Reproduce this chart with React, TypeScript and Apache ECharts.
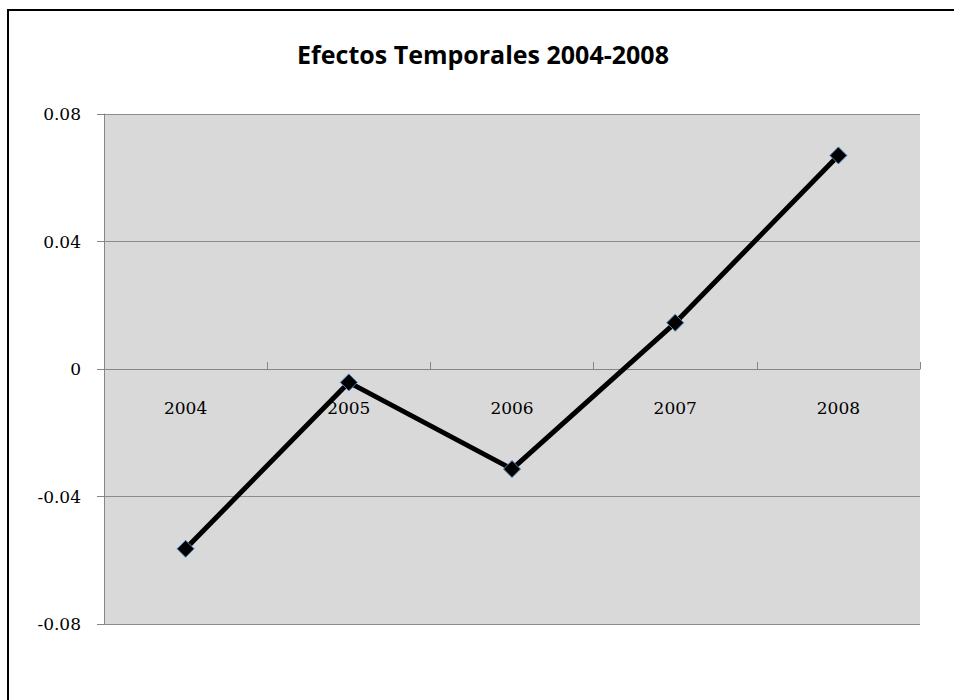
import React, { useEffect, useRef } from "react";
import * as echarts from "echarts";

const TITLE = "Efectos Temporales 2004-2008";
const years = ["2004", "2005", "2006", "2007", "2008"];
const effects = [-0.0564, -0.0042, -0.0314, 0.0145, 0.067];
const yMin = -0.08;
const yMax = 0.08;
const yStep = 0.04;

export default function App() {
  const ref = useRef<HTMLDivElement>(null);
  useEffect(() => {
    if (!ref.current) return;
    const chart = echarts.init(ref.current, null, { renderer: "svg" });
    chart.setOption({
      animation: false,
      backgroundColor: "#ffffff",
      title: {
        text: TITLE,
        left: 478,
        top: 36,
        textAlign: "center",
        textStyle: {
          fontFamily: "'Open Sans', sans-serif",
          fontWeight: "bold",
          fontSize: 25,
          color: "#000",
        },
      },
      graphic: [
        {
          type: "rect",
          shape: { x: 8, y: 10, width: 1000, height: 1000 },
          style: { fill: "none", stroke: "#000", lineWidth: 2 },
          silent: true,
        },
      ],
      grid: {
        left: 104,
        right: 34,
        top: 114,
        bottom: 76,
        show: true,
        backgroundColor: "#d9d9d9",
        borderWidth: 0,
      },
      xAxis: {
        type: "category",
        data: years,
        boundaryGap: true,
        position: "bottom",
        offset: -255,
        axisLine: { show: true, onZero: false, lineStyle: { color: "#868686", width: 1 } },
        axisTick: { show: true, inside: true, length: 7, lineStyle: { color: "#868686" } },
        axisLabel: {
          margin: 30,
          fontFamily: "'DejaVu Serif', serif",
          fontSize: 17,
          color: "#000",
        },
        splitLine: { show: false },
      },
      yAxis: {
        type: "value",
        min: yMin,
        max: yMax,
        interval: yStep,
        axisLine: { show: true, lineStyle: { color: "#868686", width: 1 } },
        axisTick: { show: true, inside: false, length: 7, lineStyle: { color: "#868686" } },
        axisLabel: {
          margin: 23,
          fontFamily: "'DejaVu Serif', serif",
          fontSize: 17,
          color: "#000",
          formatter: (v: number) => (v === 0 ? "0" : String(Number(v.toFixed(2)))),
        },
        splitLine: { show: true, lineStyle: { color: "#8c8c8c", width: 1 } },
      },
      series: [
        {
          type: "line",
          data: effects,
          symbol: "diamond",
          symbolSize: 17,
          itemStyle: { color: "#000", borderColor: "#4f81bd", borderWidth: 1 },
          lineStyle: { color: "#000", width: 5 },
        },
      ],
    });
    return () => chart.dispose();
  }, []);
  return (
    <div
      ref={ref}
      style={{ position: "fixed", left: 0, top: 0, width: 954, height: 700 }}
    />
  );
}
